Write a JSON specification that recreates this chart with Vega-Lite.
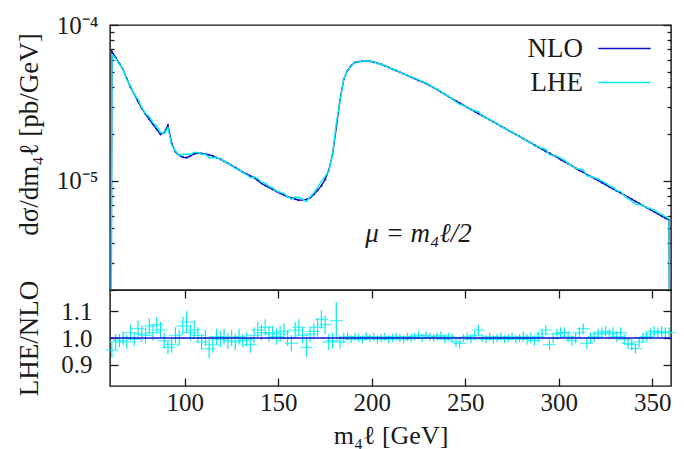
{
  "$schema": "https://vega.github.io/schema/vega-lite/v6.json",
  "padding": {"left": 14, "top": 12, "right": 10, "bottom": 0},
  "background": "white",
  "spacing": 0,
  "bounds": "flush",
  "config": {
    "font": "Liberation Serif",
    "axis": {"labelFont": "Liberation Serif", "labelFontSize": 25, "titleFont": "Liberation Serif", "titleFontSize": 27, "titleFontWeight": "normal", "labelColor": "#1a1a1a", "titleColor": "#1a1a1a", "tickColor": "#1a1a1a", "tickWidth": 1.3, "domain": false, "grid": false, "labelOverlap": false},
    "view": {"stroke": "#111111", "strokeWidth": 1.4},
    "legend": {"labelFont": "Liberation Serif", "labelFontSize": 27, "labelColor": "#1a1a1a"}
  },
  "datasets": {
    "spec": [
      {"m":60,"nlo":1e-9,"lhe":1e-9},
      {"m":61,"nlo":6.76e-5,"lhe":6.46e-5},{"m":63,"nlo":6.19e-5,"lhe":6.10e-5},{"m":65,"nlo":5.66e-5,"lhe":5.60e-5},{"m":67,"nlo":5.18e-5,"lhe":5.18e-5},{"m":69,"nlo":4.52e-5,"lhe":4.45e-5},
      {"m":71,"nlo":3.99e-5,"lhe":4.07e-5},{"m":73,"nlo":3.59e-5,"lhe":3.57e-5},{"m":75,"nlo":3.23e-5,"lhe":3.34e-5},{"m":77,"nlo":2.92e-5,"lhe":2.96e-5},{"m":79,"nlo":2.68e-5,"lhe":2.71e-5},
      {"m":81,"nlo":2.48e-5,"lhe":2.59e-5},{"m":83,"nlo":2.31e-5,"lhe":2.36e-5},{"m":85,"nlo":2.14e-5,"lhe":2.25e-5},{"m":87,"nlo":1.99e-5,"lhe":2.05e-5},{"m":89,"nlo":2.04e-5,"lhe":2.02e-5},
      {"m":91,"nlo":2.28e-5,"lhe":2.20e-5},{"m":93,"nlo":1.74e-5,"lhe":1.70e-5},{"m":95,"nlo":1.54e-5,"lhe":1.56e-5},{"m":97,"nlo":1.46e-5,"lhe":1.46e-5},{"m":99,"nlo":1.42e-5,"lhe":1.48e-5},
      {"m":101,"nlo":1.41e-5,"lhe":1.49e-5},{"m":103,"nlo":1.45e-5,"lhe":1.48e-5},{"m":105,"nlo":1.49e-5,"lhe":1.53e-5},{"m":107,"nlo":1.51e-5,"lhe":1.52e-5},{"m":109,"nlo":1.50e-5,"lhe":1.48e-5},
      {"m":111,"nlo":1.49e-5,"lhe":1.49e-5},{"m":113,"nlo":1.47e-5,"lhe":1.41e-5},{"m":115,"nlo":1.45e-5,"lhe":1.41e-5},{"m":117,"nlo":1.41e-5,"lhe":1.42e-5},{"m":119,"nlo":1.38e-5,"lhe":1.37e-5},
      {"m":121,"nlo":1.34e-5,"lhe":1.35e-5},{"m":123,"nlo":1.30e-5,"lhe":1.29e-5},{"m":125,"nlo":1.26e-5,"lhe":1.26e-5},{"m":127,"nlo":1.22e-5,"lhe":1.20e-5},{"m":129,"nlo":1.18e-5,"lhe":1.19e-5},
      {"m":131,"nlo":1.14e-5,"lhe":1.13e-5},{"m":133,"nlo":1.11e-5,"lhe":1.10e-5},{"m":135,"nlo":1.08e-5,"lhe":1.05e-5},{"m":137,"nlo":1.05e-5,"lhe":1.06e-5},{"m":139,"nlo":1.01e-5,"lhe":1.04e-5},
      {"m":141,"nlo":9.64e-6,"lhe":9.83e-6},{"m":143,"nlo":9.35e-6,"lhe":9.72e-6},{"m":145,"nlo":9.10e-6,"lhe":9.24e-6},{"m":147,"nlo":8.85e-6,"lhe":9.03e-6},{"m":149,"nlo":8.59e-6,"lhe":8.63e-6},
      {"m":151,"nlo":8.34e-6,"lhe":8.47e-6},{"m":153,"nlo":8.11e-6,"lhe":8.31e-6},{"m":155,"nlo":7.94e-6,"lhe":7.94e-6},{"m":157,"nlo":7.80e-6,"lhe":7.64e-6},{"m":159,"nlo":7.66e-6,"lhe":7.89e-6},
      {"m":161,"nlo":7.53e-6,"lhe":7.83e-6},{"m":163,"nlo":7.57e-6,"lhe":7.65e-6},{"m":165,"nlo":7.62e-6,"lhe":7.35e-6},{"m":167,"nlo":7.80e-6,"lhe":7.92e-6},{"m":169,"nlo":8.20e-6,"lhe":8.41e-6},
      {"m":171,"nlo":8.71e-6,"lhe":9.06e-6},{"m":173,"nlo":9.29e-6,"lhe":9.94e-6},{"m":175,"nlo":1.02e-5,"lhe":1.07e-5},{"m":177,"nlo":1.17e-5,"lhe":1.15e-5},{"m":179,"nlo":1.48e-5,"lhe":1.47e-5},
      {"m":181,"nlo":2.19e-5,"lhe":2.33e-5},{"m":183,"nlo":3.30e-5,"lhe":3.25e-5},{"m":185,"nlo":4.49e-5,"lhe":4.49e-5},{"m":187,"nlo":5.11e-5,"lhe":5.14e-5},{"m":189,"nlo":5.50e-5,"lhe":5.47e-5},
      {"m":191,"nlo":5.75e-5,"lhe":5.78e-5},{"m":193,"nlo":5.82e-5,"lhe":5.82e-5},{"m":195,"nlo":5.86e-5,"lhe":5.83e-5},{"m":197,"nlo":5.87e-5,"lhe":5.90e-5},{"m":199,"nlo":5.85e-5,"lhe":5.85e-5},
      {"m":201,"nlo":5.79e-5,"lhe":5.82e-5},{"m":203,"nlo":5.70e-5,"lhe":5.67e-5},{"m":205,"nlo":5.60e-5,"lhe":5.60e-5},{"m":207,"nlo":5.47e-5,"lhe":5.50e-5},{"m":209,"nlo":5.35e-5,"lhe":5.32e-5},
      {"m":211,"nlo":5.22e-5,"lhe":5.22e-5},{"m":213,"nlo":5.11e-5,"lhe":5.14e-5},{"m":215,"nlo":4.98e-5,"lhe":4.98e-5},{"m":217,"nlo":4.86e-5,"lhe":4.84e-5},{"m":219,"nlo":4.75e-5,"lhe":4.77e-5},
      {"m":221,"nlo":4.63e-5,"lhe":4.63e-5},{"m":223,"nlo":4.53e-5,"lhe":4.55e-5},{"m":225,"nlo":4.42e-5,"lhe":4.46e-5},{"m":227,"nlo":4.32e-5,"lhe":4.32e-5},{"m":229,"nlo":4.22e-5,"lhe":4.26e-5},
      {"m":231,"nlo":4.10e-5,"lhe":4.12e-5},{"m":233,"nlo":3.97e-5,"lhe":3.97e-5},{"m":235,"nlo":3.85e-5,"lhe":3.87e-5},{"m":237,"nlo":3.72e-5,"lhe":3.76e-5},{"m":239,"nlo":3.60e-5,"lhe":3.58e-5},
      {"m":241,"nlo":3.48e-5,"lhe":3.50e-5},{"m":243,"nlo":3.36e-5,"lhe":3.36e-5},{"m":245,"nlo":3.26e-5,"lhe":3.21e-5},{"m":247,"nlo":3.16e-5,"lhe":3.10e-5},{"m":249,"nlo":3.06e-5,"lhe":3.06e-5},
      {"m":251,"nlo":2.96e-5,"lhe":2.97e-5},{"m":253,"nlo":2.88e-5,"lhe":2.87e-5},{"m":255,"nlo":2.79e-5,"lhe":2.82e-5},{"m":257,"nlo":2.70e-5,"lhe":2.78e-5},{"m":259,"nlo":2.62e-5,"lhe":2.62e-5},
      {"m":261,"nlo":2.54e-5,"lhe":2.53e-5},{"m":263,"nlo":2.47e-5,"lhe":2.48e-5},{"m":265,"nlo":2.39e-5,"lhe":2.38e-5},{"m":267,"nlo":2.32e-5,"lhe":2.32e-5},{"m":269,"nlo":2.25e-5,"lhe":2.26e-5},
      {"m":271,"nlo":2.18e-5,"lhe":2.17e-5},{"m":273,"nlo":2.11e-5,"lhe":2.11e-5},{"m":275,"nlo":2.05e-5,"lhe":2.06e-5},{"m":277,"nlo":1.99e-5,"lhe":1.98e-5},{"m":279,"nlo":1.93e-5,"lhe":1.93e-5},
      {"m":281,"nlo":1.87e-5,"lhe":1.88e-5},{"m":283,"nlo":1.81e-5,"lhe":1.80e-5},{"m":285,"nlo":1.76e-5,"lhe":1.76e-5},{"m":287,"nlo":1.70e-5,"lhe":1.68e-5},{"m":289,"nlo":1.65e-5,"lhe":1.66e-5},
      {"m":291,"nlo":1.60e-5,"lhe":1.62e-5},{"m":293,"nlo":1.55e-5,"lhe":1.60e-5},{"m":295,"nlo":1.51e-5,"lhe":1.47e-5},{"m":297,"nlo":1.46e-5,"lhe":1.46e-5},{"m":299,"nlo":1.42e-5,"lhe":1.44e-5},
      {"m":301,"nlo":1.37e-5,"lhe":1.40e-5},{"m":303,"nlo":1.33e-5,"lhe":1.36e-5},{"m":305,"nlo":1.29e-5,"lhe":1.30e-5},{"m":307,"nlo":1.25e-5,"lhe":1.24e-5},{"m":309,"nlo":1.21e-5,"lhe":1.21e-5},
      {"m":311,"nlo":1.17e-5,"lhe":1.19e-5},{"m":313,"nlo":1.14e-5,"lhe":1.18e-5},{"m":315,"nlo":1.10e-5,"lhe":1.08e-5},{"m":317,"nlo":1.07e-5,"lhe":1.07e-5},{"m":319,"nlo":1.04e-5,"lhe":1.05e-5},
      {"m":321,"nlo":1.01e-5,"lhe":1.03e-5},{"m":323,"nlo":9.77e-6,"lhe":9.97e-6},{"m":325,"nlo":9.48e-6,"lhe":9.72e-6},{"m":327,"nlo":9.18e-6,"lhe":9.32e-6},{"m":329,"nlo":8.91e-6,"lhe":9.09e-6},
      {"m":331,"nlo":8.63e-6,"lhe":8.67e-6},{"m":333,"nlo":8.38e-6,"lhe":8.55e-6},{"m":335,"nlo":8.11e-6,"lhe":8.07e-6},{"m":337,"nlo":7.87e-6,"lhe":7.71e-6},{"m":339,"nlo":7.64e-6,"lhe":7.45e-6},
      {"m":341,"nlo":7.40e-6,"lhe":7.10e-6},{"m":343,"nlo":7.18e-6,"lhe":7.07e-6},{"m":345,"nlo":6.95e-6,"lhe":6.95e-6},{"m":347,"nlo":6.75e-6,"lhe":6.78e-6},{"m":349,"nlo":6.55e-6,"lhe":6.65e-6},
      {"m":351,"nlo":6.34e-6,"lhe":6.50e-6},{"m":353,"nlo":6.15e-6,"lhe":6.27e-6},{"m":355,"nlo":5.96e-6,"lhe":6.11e-6},{"m":357,"nlo":5.78e-6,"lhe":5.90e-6},{"m":359,"nlo":5.61e-6,"lhe":5.72e-6},
      {"m":360,"nlo":1e-9,"lhe":1e-9}
    ],
    "ratio": [
      {"m":61,"r":0.955,"e":0.03},{"m":63,"r":0.985,"e":0.03},{"m":65,"r":0.99,"e":0.025},{"m":67,"r":1.0,"e":0.025},{"m":69,"r":0.985,"e":0.025},
      {"m":71,"r":1.02,"e":0.03},{"m":73,"r":0.995,"e":0.025},{"m":75,"r":1.035,"e":0.03},{"m":77,"r":1.015,"e":0.03},{"m":79,"r":1.01,"e":0.03},
      {"m":81,"r":1.045,"e":0.03},{"m":83,"r":1.02,"e":0.03},{"m":85,"r":1.05,"e":0.03},{"m":87,"r":1.03,"e":0.03},{"m":89,"r":0.99,"e":0.03},
      {"m":91,"r":0.965,"e":0.025},{"m":93,"r":0.975,"e":0.03},{"m":95,"r":1.01,"e":0.03},{"m":97,"r":1.0,"e":0.03},{"m":99,"r":1.045,"e":0.035},
      {"m":101,"r":1.06,"e":0.04},{"m":103,"r":1.02,"e":0.03},{"m":105,"r":1.03,"e":0.035},{"m":107,"r":1.01,"e":0.03},{"m":109,"r":0.985,"e":0.03},
      {"m":111,"r":1.0,"e":0.03},{"m":113,"r":0.96,"e":0.035},{"m":115,"r":0.975,"e":0.03},{"m":117,"r":1.005,"e":0.03},{"m":119,"r":0.995,"e":0.03},
      {"m":121,"r":1.005,"e":0.03},{"m":123,"r":0.99,"e":0.03},{"m":125,"r":1.0,"e":0.03},{"m":127,"r":0.985,"e":0.03},{"m":129,"r":1.005,"e":0.03},
      {"m":131,"r":0.99,"e":0.025},{"m":133,"r":0.995,"e":0.025},{"m":135,"r":0.975,"e":0.03},{"m":137,"r":1.01,"e":0.03},{"m":139,"r":1.03,"e":0.03},
      {"m":141,"r":1.02,"e":0.03},{"m":143,"r":1.04,"e":0.03},{"m":145,"r":1.015,"e":0.03},{"m":147,"r":1.02,"e":0.025},{"m":149,"r":1.005,"e":0.03},
      {"m":151,"r":1.015,"e":0.03},{"m":153,"r":1.025,"e":0.03},{"m":155,"r":1.0,"e":0.03},{"m":157,"r":0.98,"e":0.03},{"m":159,"r":1.03,"e":0.03},
      {"m":161,"r":1.04,"e":0.03},{"m":163,"r":1.01,"e":0.03},{"m":165,"r":0.965,"e":0.035},{"m":167,"r":1.015,"e":0.03},{"m":169,"r":1.025,"e":0.03},
      {"m":171,"r":1.04,"e":0.035},{"m":173,"r":1.07,"e":0.035},{"m":175,"r":1.05,"e":0.035},{"m":177,"r":0.985,"e":0.03},{"m":179,"r":0.99,"e":0.03},
      {"m":181,"r":1.065,"e":0.07},{"m":183,"r":0.985,"e":0.025},{"m":185,"r":1.0,"e":0.02},{"m":187,"r":1.005,"e":0.015},{"m":189,"r":0.995,"e":0.015},
      {"m":191,"r":1.005,"e":0.015},{"m":193,"r":1.0,"e":0.015},{"m":195,"r":0.995,"e":0.015},{"m":197,"r":1.005,"e":0.015},{"m":199,"r":1.0,"e":0.015},
      {"m":201,"r":1.005,"e":0.015},{"m":203,"r":0.995,"e":0.015},{"m":205,"r":1.0,"e":0.015},{"m":207,"r":1.005,"e":0.015},{"m":209,"r":0.995,"e":0.015},
      {"m":211,"r":1.0,"e":0.015},{"m":213,"r":1.005,"e":0.015},{"m":215,"r":1.0,"e":0.015},{"m":217,"r":0.995,"e":0.015},{"m":219,"r":1.005,"e":0.015},
      {"m":221,"r":1.0,"e":0.015},{"m":223,"r":1.005,"e":0.015},{"m":225,"r":1.01,"e":0.015},{"m":227,"r":1.0,"e":0.015},{"m":229,"r":1.01,"e":0.015},
      {"m":231,"r":1.005,"e":0.015},{"m":233,"r":1.0,"e":0.015},{"m":235,"r":1.005,"e":0.015},{"m":237,"r":1.01,"e":0.015},{"m":239,"r":0.995,"e":0.015},
      {"m":241,"r":1.005,"e":0.015},{"m":243,"r":1.0,"e":0.015},{"m":245,"r":0.985,"e":0.02},{"m":247,"r":0.98,"e":0.02},{"m":249,"r":1.0,"e":0.015},
      {"m":251,"r":1.005,"e":0.015},{"m":253,"r":0.995,"e":0.015},{"m":255,"r":1.01,"e":0.015},{"m":257,"r":1.03,"e":0.02},{"m":259,"r":1.0,"e":0.015},
      {"m":261,"r":0.995,"e":0.015},{"m":263,"r":1.005,"e":0.015},{"m":265,"r":0.995,"e":0.015},{"m":267,"r":1.0,"e":0.015},{"m":269,"r":1.005,"e":0.015},
      {"m":271,"r":0.995,"e":0.015},{"m":273,"r":1.0,"e":0.015},{"m":275,"r":1.005,"e":0.015},{"m":277,"r":0.995,"e":0.015},{"m":279,"r":1.0,"e":0.015},
      {"m":281,"r":1.005,"e":0.02},{"m":283,"r":0.995,"e":0.02},{"m":285,"r":1.0,"e":0.02},{"m":287,"r":0.99,"e":0.02},{"m":289,"r":1.005,"e":0.02},
      {"m":291,"r":1.015,"e":0.02},{"m":293,"r":1.03,"e":0.02},{"m":295,"r":0.975,"e":0.02},{"m":297,"r":1.0,"e":0.02},{"m":299,"r":1.015,"e":0.02},
      {"m":301,"r":1.02,"e":0.02},{"m":303,"r":1.02,"e":0.02},{"m":305,"r":1.005,"e":0.02},{"m":307,"r":0.99,"e":0.02},{"m":309,"r":1.0,"e":0.02},
      {"m":311,"r":1.02,"e":0.02},{"m":313,"r":1.035,"e":0.02},{"m":315,"r":0.98,"e":0.02},{"m":317,"r":1.0,"e":0.02},{"m":319,"r":1.005,"e":0.02},
      {"m":321,"r":1.015,"e":0.02},{"m":323,"r":1.02,"e":0.02},{"m":325,"r":1.025,"e":0.02},{"m":327,"r":1.015,"e":0.02},{"m":329,"r":1.02,"e":0.02},
      {"m":331,"r":1.005,"e":0.02},{"m":333,"r":1.02,"e":0.02},{"m":335,"r":0.995,"e":0.02},{"m":337,"r":0.98,"e":0.02},{"m":339,"r":0.975,"e":0.02},
      {"m":341,"r":0.96,"e":0.02},{"m":343,"r":0.985,"e":0.02},{"m":345,"r":1.0,"e":0.02},{"m":347,"r":1.005,"e":0.02},{"m":349,"r":1.015,"e":0.02},
      {"m":351,"r":1.025,"e":0.02},{"m":353,"r":1.02,"e":0.02},{"m":355,"r":1.025,"e":0.02},{"m":357,"r":1.02,"e":0.02},{"m":359,"r":1.02,"e":0.02}
    ]
  },
  "vconcat": [
    {
      "width": 561,
      "height": 265,
      "data": {"name": "spec"},
      "resolve": {"axis": {"y": "independent"}},
      "layer": [
        {
          "mark": {"type": "line", "clip": true, "strokeWidth": 1.4},
          "encoding": {
            "x": {"field": "m", "type": "quantitative", "scale": {"domain": [60, 360], "nice": false, "zero": false}, "axis": null},
            "y": {"field": "nlo", "type": "quantitative", "scale": {"type": "log", "domain": [2e-6, 1e-4], "nice": false},
                  "axis": {"orient": "left", "values": [1e-5, 1e-4], "tickSize": -8, "labelPadding": 20,
                           "labelExpr": "datum.value > 3e-5 ? '10⁻⁴' : '10⁻⁵'",
                           "title": "dσ/dm₄ℓ [pb/GeV]", "titleX": -81, "titleY": 109, "titleBaseline": "middle", "titleAngle": -90}},
            "color": {"datum": "NLO", "type": "nominal",
                      "scale": {"domain": ["NLO", "LHE"], "range": ["#1010c8", "#00eeee"]},
                      "legend": {"title": null, "orient": "none", "legendX": 501, "legendY": 10, "symbolType": "M-2.5,0H2.5", "symbolSize": 441, "symbolStrokeWidth": 1.5, "symbolFillColor": "transparent", "rowPadding": 6,
                                 "encode": {"labels": {"update": {"x": {"value": -28}, "align": {"value": "right"}}}}}}
          }
        },
        {
          "mark": {"type": "point", "clip": true, "shape": "cross", "size": 5, "filled": true, "opacity": 1},
          "encoding": {
            "x": {"field": "m", "type": "quantitative", "axis": null},
            "y": {"field": "nlo", "type": "quantitative",
                  "axis": {"orient": "left", "values": [2e-6, 3e-6, 4e-6, 5e-6, 6e-6, 7e-6, 8e-6, 9e-6, 2e-5, 3e-5, 4e-5, 5e-5, 6e-5, 7e-5, 8e-5, 9e-5], "tickSize": -4, "labels": false, "title": null}},
            "color": {"datum": "NLO", "type": "nominal"}
          }
        },
        {
          "mark": {"type": "line", "clip": true, "strokeWidth": 1.4},
          "encoding": {
            "x": {"field": "m", "type": "quantitative", "axis": null},
            "y": {"field": "lhe", "type": "quantitative",
                  "axis": {"orient": "right", "values": [1e-5, 1e-4], "tickSize": -8, "labels": false, "title": null}},
            "color": {"datum": "LHE", "type": "nominal"}
          }
        },
        {
          "data": {"values": [{"label": "μ = m₄ℓ/2"}]},
          "mark": {"type": "text", "font": "Liberation Serif", "fontSize": 27, "fontStyle": "italic", "color": "#1a1a1a"},
          "encoding": {
            "x": {"datum": 225, "type": "quantitative", "axis": null},
            "y": {"datum": 4.6e-6, "type": "quantitative",
                  "axis": {"orient": "right", "values": [2e-6, 3e-6, 4e-6, 5e-6, 6e-6, 7e-6, 8e-6, 9e-6, 2e-5, 3e-5, 4e-5, 5e-5, 6e-5, 7e-5, 8e-5, 9e-5], "tickSize": -4, "labels": false, "title": null}},
            "text": {"field": "label"}
          }
        }
      ]
    },
    {
      "width": 561,
      "height": 96,
      "data": {"name": "ratio"},
      "resolve": {"axis": {"y": "independent", "x": "independent"}},
      "layer": [
        {
          "mark": {"type": "errorbar", "color": "#00eeee", "thickness": 1.2},
          "encoding": {
            "x": {"field": "m", "type": "quantitative", "scale": {"domain": [60, 360], "nice": false, "zero": false},
                  "axis": {"orient": "bottom", "values": [100, 150, 200, 250, 300, 350], "tickSize": -8, "labelPadding": 12, "title": "m₄ℓ [GeV]", "titleFontSize": 26, "titleY": 49, "titleBaseline": "middle"}},
            "y": {"field": "r", "type": "quantitative", "scale": {"domain": [0.82, 1.18], "nice": false, "zero": false},
                  "axis": {"orient": "right", "values": [0.9, 1.0, 1.1], "tickSize": -8, "labels": false, "title": null}},
            "yError": {"field": "e"}
          }
        },
        {
          "mark": {"type": "tick", "orient": "horizontal", "color": "#00eeee", "size": 13, "thickness": 1.2},
          "encoding": {
            "x": {"field": "m", "type": "quantitative",
                  "axis": {"orient": "top", "values": [100, 150, 200, 250, 300, 350], "tickSize": -8, "labels": false, "title": null}},
            "y": {"field": "r", "type": "quantitative", "axis": null}
          }
        },
        {
          "data": {"values": [{}]},
          "mark": {"type": "rule", "color": "#1010c8", "strokeWidth": 1.6},
          "encoding": {
            "y": {"datum": 1, "type": "quantitative",
                  "axis": {"orient": "left", "values": [0.9, 1.0, 1.1], "format": ".1f", "tickSize": -8, "labelPadding": 26, "title": "LHE/NLO", "titleX": -81, "titleBaseline": "middle", "titleAngle": -90}}
          }
        }
      ]
    }
  ]
}
